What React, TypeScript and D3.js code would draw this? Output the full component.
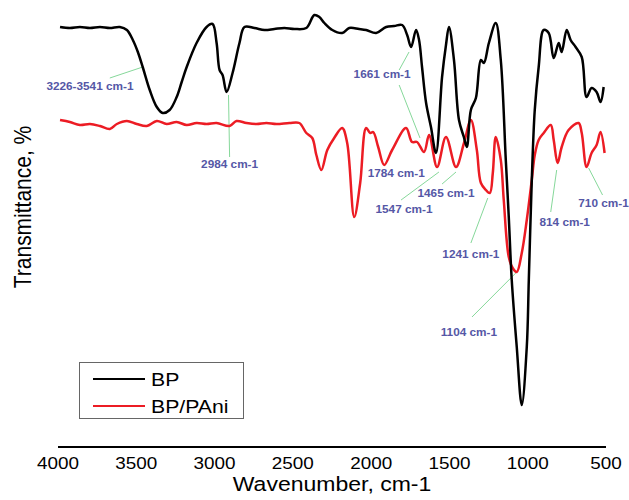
import React from "react";
import * as d3 from "d3";

// Wavenumber (cm-1) and transmittance (arbitrary units)
const bpWave = [3987, 3924, 3860, 3796, 3732, 3669, 3605, 3560, 3522, 3490, 3459, 3414, 3369, 3331, 3287, 3242, 3210, 3178, 3115, 3051, 3013, 2987, 2968, 2949, 2923, 2885, 2841, 2809, 2745, 2681, 2618, 2554, 2490, 2414, 2363, 2331, 2299, 2248, 2185, 2140, 2077, 2032, 1968, 1904, 1853, 1802, 1770, 1745, 1713, 1694, 1675, 1649, 1618, 1586, 1547, 1522, 1503, 1471, 1439, 1408, 1389, 1363, 1331, 1299, 1280, 1248, 1204, 1172, 1140, 1121, 1102, 1070, 1038, 1006, 993, 974, 955, 930, 898, 866, 834, 802, 783, 751, 726, 694, 655, 624, 592, 560, 535, 515];
const bpT = [420, 419, 420, 419, 420, 419, 420, 417, 407, 395, 380, 357, 340, 334, 337, 350, 365, 380, 404, 420, 423, 404, 377, 372, 355, 374, 404, 420, 419, 417, 418, 419, 418, 419, 432, 430, 424, 417, 414, 419, 418, 417, 414, 420, 421, 422, 412, 400, 417, 407, 380, 344, 320, 294, 370, 402, 420, 387, 327, 310, 300, 337, 349, 387, 384, 404, 424, 387, 287, 230, 167, 100, 42, 100, 167, 267, 337, 380, 417, 414, 389, 404, 395, 417, 407, 400, 390, 350, 359, 355, 345, 360];

const paniWave = [3987, 3924, 3860, 3796, 3732, 3669, 3624, 3560, 3497, 3433, 3369, 3306, 3242, 3178, 3115, 3051, 2987, 2904, 2860, 2796, 2732, 2669, 2605, 2522, 2459, 2414, 2376, 2350, 2318, 2280, 2236, 2185, 2153, 2108, 2070, 2032, 2006, 1987, 1955, 1917, 1866, 1777, 1739, 1707, 1662, 1630, 1579, 1522, 1458, 1407, 1363, 1325, 1299, 1267, 1242, 1223, 1204, 1172, 1153, 1121, 1096, 1070, 1038, 1006, 974, 955, 930, 898, 853, 834, 809, 783, 739, 675, 655, 624, 592, 560, 535, 509];
const paniT = [327, 325, 322, 323, 321, 318, 323, 326, 323, 321, 326, 323, 325, 322, 324, 323, 324, 321, 326, 324, 323, 324, 323, 324, 324, 314, 309, 292, 277, 297, 309, 319, 304, 230, 264, 319, 314, 315, 300, 282, 297, 319, 305, 305, 295, 312, 280, 310, 280, 304, 327, 297, 264, 257, 254, 274, 310, 287, 247, 190, 179, 175, 194, 227, 267, 292, 307, 314, 322, 307, 284, 300, 317, 324, 314, 280, 294, 302, 315, 294];

const seriesNames = ["BP", "BP/PAni"];
const xTicks = [4000, 3500, 3000, 2500, 2000, 1500, 1000, 500];

// Peak annotations: label, label anchor (wavenumber, value), leader lines
const annoLabels = ["3226-3541 cm-1", "2984 cm-1", "1661 cm-1", "1784 cm-1", "1547 cm-1", "1465 cm-1", "1241 cm-1", "1104 cm-1", "814 cm-1", "710 cm-1"];
const annoWave = [3796, 2904, 1930, 1840, 1790, 1522, 1363, 1376, 764, 516];
const annoT = [357, 279, 369, 270, 234, 250, 189, 111, 221, 240];
const leaderLines: [number, number, number, number][] = [
  [3669, 369, 3459, 380],
  [2911, 352, 2904, 290],
  [1758, 395, 1821, 377],
  [1821, 362, 1688, 309],
  [1809, 247, 1567, 275],
  [1547, 263, 1458, 275],
  [1363, 204, 1255, 249],
  [1356, 130, 1076, 174],
  [853, 235, 815, 277],
  [522, 252, 611, 279],
];

const W = 629;
const H = 500;
const SX = 1.18;

export default function App() {
  const x = d3.scaleLinear().domain([4000, 500]).range([58, 606]);
  const y = d3.scaleLinear().domain([0, 440]).range([447, 7]);
  const line = d3
    .line<[number, number]>()
    .x((d) => x(d[0]))
    .y((d) => y(d[1]))
    .curve(d3.curveCatmullRom.alpha(0.5));
  const bpPts = bpWave.map((w, i) => [w, bpT[i]] as [number, number]);
  const paniPts = paniWave.map((w, i) => [w, paniT[i]] as [number, number]);
  const font = "'Liberation Sans', Arial, sans-serif";
  const annoColor = "#5557a6";
  const leaderColor = "#86d89a";

  return (
    <svg
      width={W}
      height={H}
      style={{ position: "absolute", left: 0, top: 0, background: "#fff" }}
      fontFamily={font}
    >
      {leaderLines.map((l, i) => (
        <line
          key={"l" + i}
          x1={x(l[0])}
          y1={y(l[1])}
          x2={x(l[2])}
          y2={y(l[3])}
          stroke={leaderColor}
          strokeWidth={1}
        />
      ))}
      <path d={line(paniPts) || ""} fill="none" stroke="#ec1c24" strokeWidth={2.5} />
      <path d={line(bpPts) || ""} fill="none" stroke="#000" strokeWidth={2.5} />
      {annoLabels.map((t, i) => (
        <text
          key={"a" + i}
          transform={`translate(${x(annoWave[i])},${y(annoT[i])}) scale(${SX},1)`}
          textAnchor="middle"
          fontSize={10}
          fontWeight="bold"
          fill={annoColor}
        >
          {t}
        </text>
      ))}
      <line x1={x(4000)} x2={x(500)} y1={447} y2={447} stroke="#000" strokeWidth={2} />
      {xTicks.map((t) => (
        <text
          key={t}
          transform={`translate(${x(t)},469) scale(${SX},1)`}
          textAnchor="middle"
          fontSize={16}
          fill="#000"
        >
          {t}
        </text>
      ))}
      <text
        transform={`translate(332,491) scale(${SX},1)`}
        textAnchor="middle"
        fontSize={19.5}
        fill="#000"
      >
        Wavenumber, cm-1
      </text>
      <text
        transform={`translate(31,207) scale(${SX},1) rotate(-90)`}
        textAnchor="middle"
        fontSize={21}
        fill="#000"
      >
        Transmittance, %
      </text>
      <rect x={79.5} y={362.5} width={164} height={56} fill="#fff" stroke="#666" strokeWidth={1} />
      {seriesNames.map((n, i) => (
        <g key={n}>
          <line
            x1={93}
            x2={145}
            y1={379 + i * 27}
            y2={379 + i * 27}
            stroke={i === 0 ? "#000" : "#ec1c24"}
            strokeWidth={2}
          />
          <text
            transform={`translate(151,${386 + i * 27}) scale(${SX},1)`}
            fontSize={18}
            fill="#000"
          >
            {n}
          </text>
        </g>
      ))}
    </svg>
  );
}
